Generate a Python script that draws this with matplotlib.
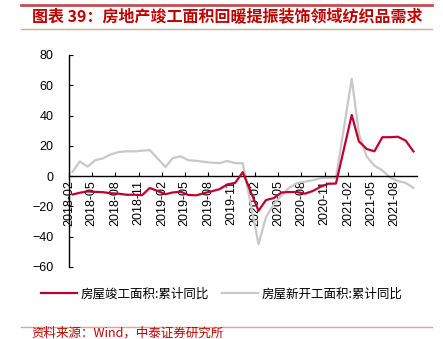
import matplotlib
matplotlib.use("Agg")
import matplotlib.pyplot as plt
import matplotlib.dates as mdates
from matplotlib.lines import Line2D
import pandas as pd

# 月份（1-2月合并，无1月数据）
years = [2018, 2019, 2020, 2021]
months_full = [2, 3, 4, 5, 6, 7, 8, 9, 10, 11, 12]
months_2021 = [2, 3, 4, 5, 6, 7, 8, 9, 10]

# 房屋竣工面积:累计同比 (%)
wangong = [
    -12.1, -11.0, -10.1, -10.4, -10.6, -11.3, -11.6, -12.3, -12.3, -12.6, -7.8,
    -11.9, -10.8, -10.3, -12.4, -12.7, -11.3, -10.0, -8.6, -5.5, -4.5, 2.6,
    -22.9, -15.8, -14.5, -10.8, -10.5, -10.5, -11.6, -9.8, -7.1, -5.0, -4.9,
    40.4, 22.9, 17.9, 16.4, 25.7, 25.7, 26.0, 23.4, 16.3,
]
# 房屋新开工面积:累计同比 (%)
xinkaigong = [
    2.9, 9.7, 6.3, 10.5, 11.8, 14.4, 15.9, 16.4, 16.3, 16.8, 17.2,
    6.0, 11.9, 13.1, 10.5, 10.1, 9.5, 8.9, 8.6, 10.0, 8.6, 8.5,
    -44.9, -27.2, -18.4, -12.8, -7.6, -4.5, -3.6, -2.7, -1.4, -1.0, -1.2,
    64.3, 28.2, 12.8, 6.9, 3.8, -0.9, -3.2, -4.5, -7.7,
]

dates = []
for y in years:
    for m in (months_2021 if y == 2021 else months_full):
        dates.append(pd.Timestamp(y, m, 15))

label_red = "房屋竣工面积:累计同比"
label_grey = "房屋新开工面积:累计同比"
title = "图表 39：房地产竣工面积回暖提振装饰领域纺织品需求"
source = "资料来源：Wind，中泰证券研究所"

cjk = ["Noto Sans CJK SC", "DejaVu Sans"]
plt.rcParams["font.family"] = ["Liberation Sans", "DejaVu Sans"]

fig = plt.figure(figsize=(4.43, 3.39), dpi=100)
ax = fig.add_axes([0.1558, 0.2124, 0.7866, 0.6254])

ax.plot(dates, wangong, color="#C0002F", lw=1.6, label=label_red, zorder=3)
ax.plot(dates, xinkaigong, color="#C8C8C8", lw=1.6, label=label_grey, zorder=2)

ax.set_ylim(-60, 80)
ax.set_yticks(range(-60, 81, 20))
ax.set_xlim(pd.Timestamp(2018, 2, 1), pd.Timestamp(2021, 10, 31))
ax.xaxis.set_major_locator(mdates.MonthLocator(bymonth=[2, 5, 8, 11]))
ax.xaxis.set_major_formatter(mdates.DateFormatter("%Y-%m"))

for s in ["top", "right"]:
    ax.spines[s].set_visible(False)
ax.spines["bottom"].set_position(("data", 0))
ax.spines["bottom"].set_linewidth(1.0)
ax.spines["left"].set_linewidth(1.0)
ax.tick_params(axis="y", direction="in", length=3, pad=11, labelsize=9)
ax.tick_params(axis="x", direction="in", length=3, pad=3, labelsize=9, labelrotation=90)

leg = ax.legend(loc="center", bbox_to_anchor=(0.5, 0.133), bbox_transform=fig.transFigure,
                ncol=2, frameon=False, handlelength=2.9, columnspacing=1.0,
                handletextpad=0.3, prop={"family": cjk, "size": 9})

# 标题和边线
fig.add_artist(Line2D([0.047, 0.975], [0.985, 0.985], color="#C0504D", lw=2.0))
fig.add_artist(Line2D([0.047, 0.975], [0.915, 0.915], color="#E6A0A0", lw=1.0))
fig.text(0.072, 0.951, title, color="#C00000", fontsize=11.5, fontweight="bold",
         family=cjk, va="center", ha="left")
fig.add_artist(Line2D([0.047, 0.975], [0.036, 0.036], color="#E6A0A0", lw=1.0))
fig.text(0.07, 0.017, source, color="#C00000", fontsize=9, family=cjk,
         va="center", ha="left")

fig.savefig("out.png", dpi=100)
plt.close("all")
